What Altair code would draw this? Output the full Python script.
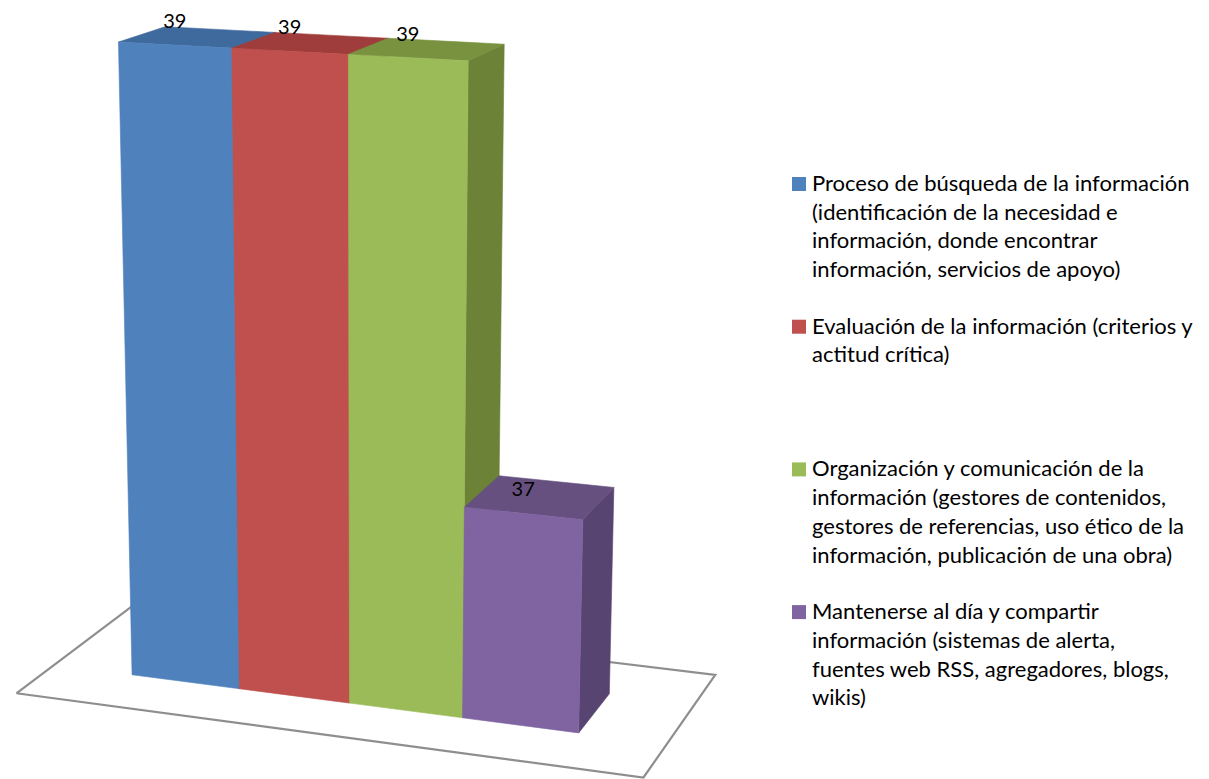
import numpy as np
import pandas as pd
import altair as alt

# ---------------- data ----------------
legend_lines = [
    ["Proceso de búsqueda de la información", "(identificación de la necesidad e",
     "información, donde encontrar", "información, servicios de apoyo)"],
    ["Evaluación de la información (criterios y", "actitud crítica)"],
    ["Organización y comunicación de la", "información (gestores de contenidos,",
     "gestores de referencias, uso ético de la", "información, publicación de una obra)"],
    ["Mantenerse al día y compartir", "información (sistemas de alerta,",
     "fuentes web RSS, agregadores, blogs,", "wikis)"],
]
categories = [" ".join(l) for l in legend_lines]
values = [39, 39, 39, 37]
value_labels = ["39", "39", "39", "37"]
AXIS_MIN = 36

# ---------------- style ----------------
front_colors = ["#4F81BD", "#C0504D", "#9BBB59", "#8064A2"]
top_colors = ["#3E6A9D", "#9E3D3B", "#78923F", "#66507F"]
side_colors = ["#375D8A", "#8A3533", "#6B8237", "#584470"]

# 3-D view (yaw, pitch, roll, camera distance, focal length, centre x/y, height scale, depth)
CAM = (0.3454, 0.2562, 0.0, 24.61, 2956.1, 368.6, 374.2, 1.829, 0.950)
# floor extent in category / depth units
FLOOR_X = (-0.74, 4.74)
FLOOR_Z = (-0.78, 1.79)


def project(X, V, Zf, q=CAM):
    yaw, pitch, roll, D, f, cx, cy, hs, ds = q
    x = np.asarray(X, float) - 2
    y = (np.asarray(V, float) - AXIS_MIN - 1.5) * hs
    z = np.asarray(Zf, float) * ds - ds / 2
    x1 = x * np.cos(yaw) + z * np.sin(yaw)
    z1 = -x * np.sin(yaw) + z * np.cos(yaw)
    y2 = y * np.cos(pitch) + z1 * np.sin(pitch)
    z2 = -y * np.sin(pitch) + z1 * np.cos(pitch)
    x3 = x1 * np.cos(roll) - y2 * np.sin(roll)
    y3 = x1 * np.sin(roll) + y2 * np.cos(roll)
    zc = D + z2
    return float(cx + f * x3 / zc), float(cy - f * y3 / zc)


W, H = 1193, 771
xs = alt.Scale(domain=[8, 8 + W], nice=False, zero=False)
ys = alt.Scale(domain=[8, 8 + H], reverse=True, nice=False, zero=False)
X_ENC = alt.X("x:Q", scale=xs, axis=None)
Y_ENC = alt.Y("y:Q", scale=ys, axis=None, stack=None)


def area_rows(poly):
    pts = [project(*c) for c in poly]
    xs_ = sorted(set(round(p[0], 4) for p in pts))
    rows = []
    n = len(pts)
    for x in xs_:
        hits = []
        for i in range(n):
            (ax, ay), (bx, by) = pts[i], pts[(i + 1) % n]
            lo, hi = min(ax, bx), max(ax, bx)
            if lo - 1e-3 <= x <= hi + 1e-3:
                if abs(bx - ax) < 1e-6:
                    hits += [ay, by]
                else:
                    t = (x - ax) / (bx - ax)
                    hits.append(ay + t * (by - ay))
        rows.append({"x": x, "y": min(hits), "y2": max(hits)})
    return pd.DataFrame(rows)


def face(poly, color):
    return alt.Chart(area_rows(poly)).mark_area(
        color=color, stroke=color, strokeWidth=0.6, opacity=1
    ).encode(x=X_ENC, y=Y_ENC, y2="y2:Q")


layers = []

# floor outline
(XL, XR), (ZF, ZB) = FLOOR_X, FLOOR_Z
floor_c = [(XL, ZF), (XR, ZF), (XR, ZB), (XL, ZB), (XL, ZF)]
floor_df = pd.DataFrame(
    [dict(zip(["x", "y"], project(a, AXIS_MIN, b)), i=k) for k, (a, b) in enumerate(floor_c)]
)
layers.append(
    alt.Chart(floor_df).mark_line(color="#8E8E8E", strokeWidth=2.2).encode(
        x=X_ENC, y=Y_ENC, order="i:Q"
    )
)

# bars (back to front)
for i, v in enumerate(values):
    side = [(i + 1, AXIS_MIN, 0), (i + 1, AXIS_MIN, 1), (i + 1, v, 1), (i + 1, v, 0)]
    top = [(i, v, 0), (i + 1, v, 0), (i + 1, v, 1), (i, v, 1)]
    front = [(i, AXIS_MIN, 0), (i + 1, AXIS_MIN, 0), (i + 1, v, 0), (i, v, 0)]
    layers.append(face(side, side_colors[i]))
    layers.append(face(top, top_colors[i]))
    layers.append(face(front, front_colors[i]))

# value labels
lab_df = pd.DataFrame(
    [dict(zip(["x", "y"], project(i + 0.5, v, 0)), t=value_labels[i]) for i, v in enumerate(values)]
)
layers.append(
    alt.Chart(lab_df).mark_text(
        font="Lato", fontSize=20, dy=-17, baseline="alphabetic", color="#000000"
    ).encode(x=X_ENC, y=Y_ENC, text="t:N")
)

# legend
LEG_X, LEG_Y0, ENTRY_STEP, LINE_STEP = 799, 184, 142.7, 28.7
sq_df = pd.DataFrame(
    {"x": [LEG_X] * 4, "y": [LEG_Y0 + k * ENTRY_STEP for k in range(4)], "c": front_colors,
     "cat": categories}
)
layers.append(
    alt.Chart(sq_df).mark_square(size=196, opacity=1).encode(
        x=X_ENC, y=Y_ENC, color=alt.Color("c:N", scale=None)
    )
)
txt_rows = []
for k, lines in enumerate(legend_lines):
    for j, ln in enumerate(lines):
        txt_rows.append({"x": LEG_X + 13, "y": LEG_Y0 + k * ENTRY_STEP + j * LINE_STEP, "t": ln})
layers.append(
    alt.Chart(pd.DataFrame(txt_rows)).mark_text(
        font="Lato", fontSize=22, align="left", baseline="middle", color="#000000"
    ).encode(x=X_ENC, y=Y_ENC, text="t:N")
)

chart = alt.layer(*layers).properties(
    width=W, height=H, padding=0, autosize=alt.AutoSizeParams(type="none")
).configure_view(stroke=None)

chart.save("out.html", embed_options={"renderer": "svg", "actions": False})
